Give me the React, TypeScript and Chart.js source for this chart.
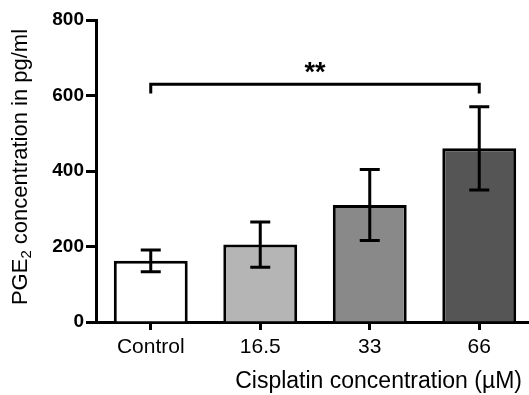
import React, { useEffect, useRef } from "react";
import { Chart, registerables } from "chart.js";

Chart.register(...registerables);

const categories = ["Control", "16.5", "33", "66"];
const means = [162, 205, 310, 460];
const errors = [29, 60, 94, 110];
const barColors = ["#ffffff", "#b5b5b5", "#898989", "#555555"];
const yTicks = [0, 200, 400, 600, 800];
const bracketFrom = 0;
const bracketTo = 3;
const bracketLevel = 630;
const bracketLegEnd = 605;
const bracketLabel = "**";
const xTitle = "Cisplatin concentration (µM)";
const yTitleMain = "PGE";
const yTitleSub = "2";
const yTitleRest = " concentration in pg/ml";

const FONT = "'Liberation Sans', Arial, Helvetica, sans-serif";

const annotPlugin = {
  id: "annot",
  afterDraw(chart: any) {
    const ctx = chart.ctx as CanvasRenderingContext2D;
    const xs = chart.scales.x;
    const ys = chart.scales.y;
    const area = chart.chartArea;
    ctx.save();
    ctx.strokeStyle = "#000";
    ctx.lineWidth = 3;
    ctx.lineCap = "butt";
    ctx.lineJoin = "miter";
    // error bars
    means.forEach((m, i) => {
      const cx = xs.getPixelForValue(i);
      const top = ys.getPixelForValue(m + errors[i]);
      const bot = ys.getPixelForValue(m - errors[i]);
      ctx.beginPath();
      ctx.moveTo(cx, top);
      ctx.lineTo(cx, bot);
      ctx.moveTo(cx - 10, top);
      ctx.lineTo(cx + 10, top);
      ctx.moveTo(cx - 10, bot);
      ctx.lineTo(cx + 10, bot);
      ctx.stroke();
    });
    // significance bracket
    const bx1 = xs.getPixelForValue(bracketFrom);
    const bx2 = xs.getPixelForValue(bracketTo);
    const by = ys.getPixelForValue(bracketLevel);
    const byLeg = ys.getPixelForValue(bracketLegEnd);
    ctx.beginPath();
    ctx.moveTo(bx1, byLeg);
    ctx.lineTo(bx1, by);
    ctx.lineTo(bx2, by);
    ctx.lineTo(bx2, byLeg);
    ctx.stroke();
    ctx.fillStyle = "#000";
    ctx.font = `bold 27px ${FONT}`;
    ctx.textAlign = "center";
    ctx.textBaseline = "alphabetic";
    ctx.fillText(bracketLabel, (bx1 + bx2) / 2, by - 3);

    // x title
    ctx.font = `23px ${FONT}`;
    ctx.textAlign = "right";
    ctx.textBaseline = "middle";
    ctx.fillText(xTitle, area.right - 12, 382);

    // y title with subscript
    const cy = (area.top + area.bottom) / 2 - 4;
    ctx.translate(21, cy);
    ctx.rotate(-Math.PI / 2);
    const mainFont = `22px ${FONT}`;
    const subFont = `15px ${FONT}`;
    ctx.font = mainFont;
    const w1 = ctx.measureText(yTitleMain).width;
    const w3 = ctx.measureText(yTitleRest).width;
    ctx.font = subFont;
    const w2 = ctx.measureText(yTitleSub).width;
    const total = w1 + w2 + w3;
    let px = -total / 2;
    ctx.textAlign = "left";
    ctx.textBaseline = "middle";
    ctx.font = mainFont;
    ctx.fillText(yTitleMain, px, 0);
    px += w1;
    ctx.font = subFont;
    ctx.fillText(yTitleSub, px, 6);
    px += w2;
    ctx.font = mainFont;
    ctx.fillText(yTitleRest, px, 0);
    ctx.restore();
  },
};

export default function App() {
  const ref = useRef<HTMLCanvasElement | null>(null);
  useEffect(() => {
    if (!ref.current) return;
    const chart = new Chart(ref.current, {
      type: "bar",
      data: {
        labels: categories,
        datasets: [
          {
            data: means,
            backgroundColor: barColors,
            borderColor: "#000",
            borderWidth: 3,
            barPercentage: 0.675,
            categoryPercentage: 1,
          },
        ],
      },
      options: {
        responsive: false,
        animation: false,
        layout: { padding: { top: 20, right: 11, left: 0, bottom: 0 } },
        plugins: { legend: { display: false }, tooltip: { enabled: false } },
        scales: {
          x: {
            z: 1,
            offset: true,
            grid: {
              display: true,
              drawOnChartArea: false,
              drawTicks: true,
              tickLength: 8,
              tickWidth: 3,
              tickColor: "#000",
              offset: false,
            },
            border: { display: true, color: "#000", width: 3 },
            ticks: {
              color: "#000",
              font: { family: FONT, size: 21 },
              padding: 5,
              maxRotation: 0,
            },
            afterFit: (s: any) => {
              s.height = 73;
            },
          },
          y: {
            z: 1,
            min: 0,
            max: 800,
            afterBuildTicks: (s: any) => {
              s.ticks = yTicks.map((v) => ({ value: v }));
            },
            grid: {
              display: true,
              drawOnChartArea: false,
              drawTicks: true,
              tickLength: 10,
              tickWidth: 3,
              tickColor: "#000",
            },
            border: { display: true, color: "#000", width: 3 },
            ticks: {
              color: "#000",
              font: { family: FONT, size: 19, weight: "bold" },
              padding: 2,
            },
            afterFit: (s: any) => {
              s.width = 96;
            },
          },
        },
      },
      plugins: [annotPlugin],
    });
    return () => chart.destroy();
  }, []);
  return (
    <div
      style={{
        position: "fixed",
        left: 0,
        top: 0,
        width: 529,
        height: 395,
        overflow: "hidden",
        background: "#fff",
      }}
    >
      <canvas ref={ref} width={545} height={395} style={{ display: "block" }} />
    </div>
  );
}
